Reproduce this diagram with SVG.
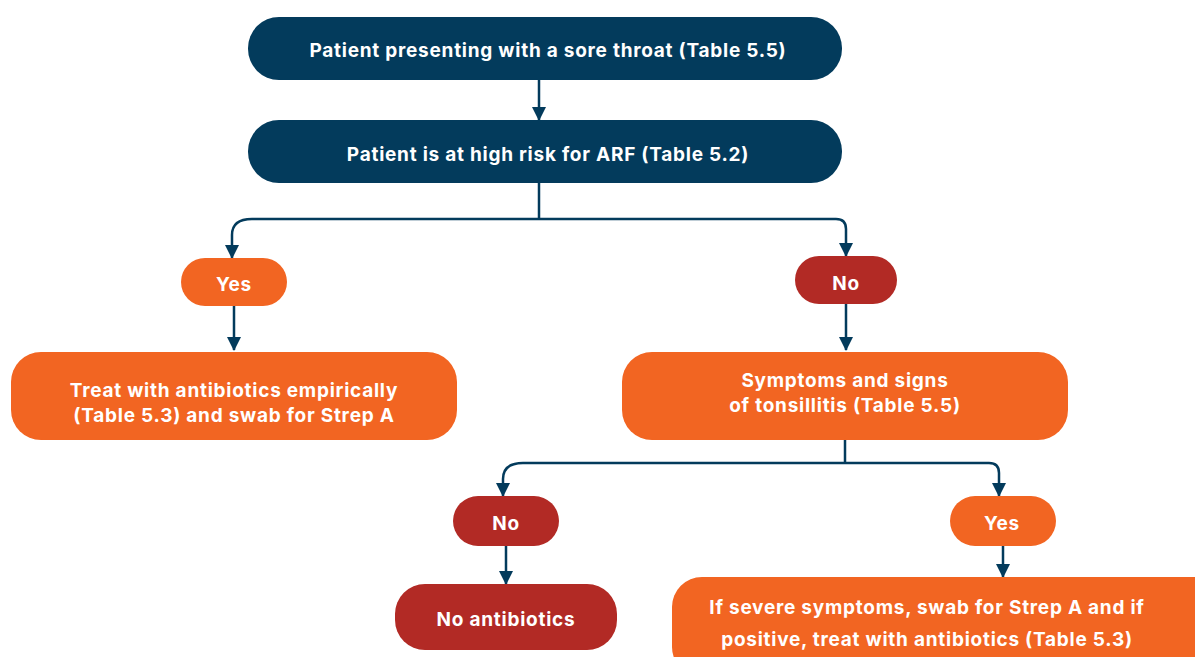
<svg xmlns="http://www.w3.org/2000/svg" width="1195" height="657" viewBox="0 0 1195 657">
<style>
.navy{fill:#033b5c}
.org{fill:#f26522}
.red{fill:#b22a25}
.t{font-family:Inter,"Noto Sans",sans-serif;font-weight:700;font-size:19px;letter-spacing:0.75px;fill:#fff;text-anchor:middle;dominant-baseline:central}
.c{fill:none;stroke:#033b5c;stroke-width:2.5}
</style>
<defs>
<marker id="ah" viewBox="0 0 14 14" refX="13" refY="7" markerWidth="14" markerHeight="14" markerUnits="userSpaceOnUse" orient="auto">
<path d="M0,0 L14,7 L0,14 Z" fill="#033b5c"/>
</marker>
</defs>
<rect width="1195" height="657" fill="#fff"/>
<g id="connectors">
<path class="c" d="M539,80 V120" marker-end="url(#ah)"/>
<path class="c" d="M539,183 V219"/>
<path class="c" d="M539,219 H252 Q232,219 232,235 V258" marker-end="url(#ah)"/>
<path class="c" d="M539,219 H836 Q846,219 846,229 V256" marker-end="url(#ah)"/>
<path class="c" d="M234,306 V350" marker-end="url(#ah)"/>
<path class="c" d="M846,304 V350" marker-end="url(#ah)"/>
<path class="c" d="M845,440 V463"/>
<path class="c" d="M845,463 H523 Q503,463 503,479 V496" marker-end="url(#ah)"/>
<path class="c" d="M845,463 H989 Q999,463 999,473 V496" marker-end="url(#ah)"/>
<path class="c" d="M506,546 V584" marker-end="url(#ah)"/>
<path class="c" d="M1003,546 V577" marker-end="url(#ah)"/>
</g>
<g id="n1"><rect class="navy" x="248" y="17" width="594" height="63" rx="31"/><text class="t" x="548" y="50">Patient presenting with a sore throat (Table 5.5)</text></g>
<g id="n2"><rect class="navy" x="248" y="120" width="594" height="63" rx="31"/><text class="t" x="548" y="154">Patient is at high risk for ARF (Table 5.2)</text></g>
<g id="yes1"><rect class="org" x="181" y="258" width="106" height="48" rx="24"/><text class="t" x="234" y="284">Yes</text></g>
<g id="no1"><rect class="red" x="795" y="256" width="102" height="48" rx="24"/><text class="t" x="846" y="283">No</text></g>
<g id="treat"><rect class="org" x="11" y="352" width="446" height="88" rx="30"/><text class="t" x="234" y="390">Treat with antibiotics empirically</text><text class="t" x="234" y="415">(Table 5.3) and swab for Strep A</text></g>
<g id="symptoms"><rect class="org" x="622" y="352" width="446" height="88" rx="30"/><text class="t" x="845" y="380">Symptoms and signs</text><text class="t" x="845" y="405">of tonsillitis (Table 5.5)</text></g>
<g id="no2"><rect class="red" x="453" y="496" width="106" height="50" rx="25"/><text class="t" x="506" y="523">No</text></g>
<g id="yes2"><rect class="org" x="950" y="496" width="106" height="50" rx="25"/><text class="t" x="1002" y="523">Yes</text></g>
<g id="noanti"><rect class="red" x="395" y="584" width="222" height="66" rx="30"/><text class="t" x="506" y="619">No antibiotics</text></g>
<g id="severe"><rect class="org" x="672" y="577" width="560" height="100" rx="30"/><text class="t" x="927" y="607">If severe symptoms, swab for Strep A and if</text><text class="t" x="927" y="639">positive, treat with antibiotics (Table 5.3)</text></g>
</svg>
